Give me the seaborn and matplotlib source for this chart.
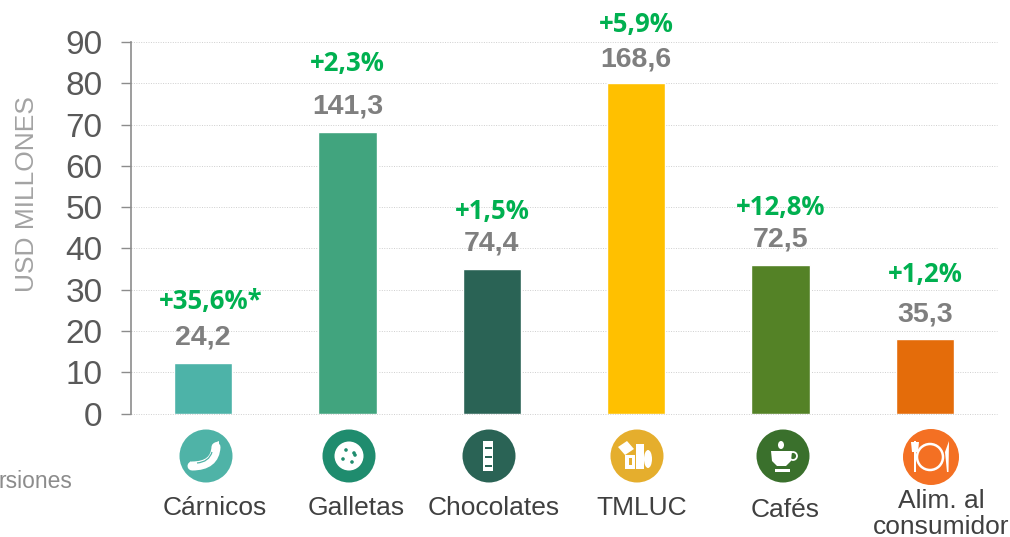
import matplotlib
matplotlib.use("Agg")
import matplotlib.pyplot as plt
import matplotlib.patheffects as pe
from matplotlib.patches import Circle, Ellipse, Rectangle, Polygon, PathPatch
from matplotlib.path import Path
import pandas as pd
import seaborn as sb

categories = ["Cárnicos", "Galletas", "Chocolates", "TMLUC", "Cafés", "Alim. al\nconsumidor"]
bar_values = [12.2, 68.2, 35, 80, 36, 18]
value_labels = ["24,2", "141,3", "74,4", "168,6", "72,5", "35,3"]
growth_labels = ["+35,6%*", "+2,3%", "+1,5%", "+5,9%", "+12,8%", "+1,2%"]
value_y = [18.4, 74.3, 41.1, 85.7, 42.1, 23.9]
growth_y = [27.1, 84.8, 48.9, 94.2, 49.9, 33.6]
bar_colors = ["#4DB3A8", "#41A47E", "#2A6355", "#FFC000", "#548226", "#E46C0A"]
icon_colors = ["#4FB3A7", "#1F8C6E", "#2A6355", "#E5AE2D", "#3A702C", "#F47023"]
yticks = [0, 10, 20, 30, 40, 50, 60, 70, 80, 90]

sb.set_style("white")
plt.rcParams["font.family"] = ["Liberation Sans", "DejaVu Sans"]

W, H = 1010, 537
fig = plt.figure(figsize=(W / 100, H / 100), dpi=100)
ax = fig.add_axes([131 / W, 1 - 413.5 / H, (997 - 131) / W, (413.5 - 42) / H])

df = pd.DataFrame({"cat": categories, "val": bar_values})
sb.barplot(data=df, x="cat", y="val", hue="cat", palette=bar_colors, legend=False,
           width=0.405, saturation=1, ax=ax, zorder=3)
shadow = [pe.SimplePatchShadow(offset=(0.6, -1), alpha=0.3, shadow_rgbFace="#555555"), pe.Normal()]
for p in ax.patches:
    p.set_path_effects(shadow)

ax.set_xlim(-0.5, 5.5)
ax.set_ylim(0, 90)
ax.set_yticks(yticks)
ax.set_xticks([])
ax.set_xlabel("")
ax.set_ylabel("USD MILLONES", fontsize=19, color="#a3a3a3", va="center")
ax.yaxis.set_label_coords(-0.12, 0.59)
ax.grid(axis="y", color="#cfcfcf", linestyle=(0, (1, 1.5)), linewidth=0.7, zorder=0, clip_on=False)
ax.set_axisbelow(True)
ax.tick_params(axis="y", labelsize=24, labelcolor="#595959", color="#8c8c8c",
               length=7.5, width=1, pad=13, left=True)
sb.despine(ax=ax, top=True, right=True, bottom=True)
ax.spines["left"].set_color("#8c8c8c")
ax.spines["left"].set_linewidth(1.2)

for i in range(len(categories)):
    ax.text(i, value_y[i], value_labels[i], ha="center", va="center", fontsize=20.5,
            fontweight="bold", color="#7f7f7f")
    ax.text(i + (0.05 if i == 0 else 0), growth_y[i], growth_labels[i], ha="center", va="center",
            fontsize=18.5, fontweight="bold", color="#00B050", family="Open Sans", clip_on=False)

# overlay in pixels for the icons and the labels under the axis
ov = fig.add_axes([0, 0, 1, 1], zorder=5)
ov.set_xlim(0, W)
ov.set_ylim(H, 0)
ov.axis("off")

icon_x = [206, 349, 489, 637, 783, 931]
icon_y = [456, 456, 456, 456, 456, 457]
icon_r = [26.5, 26.5, 26.5, 26.5, 26.5, 28]
for x, y, r, c in zip(icon_x, icon_y, icon_r, icon_colors):
    ov.add_patch(Circle((x, y), r, color=c, lw=0))

# sausage
sausage = Path([(192, 466), (215, 466), (216, 447)], [Path.MOVETO, Path.CURVE3, Path.CURVE3])
ov.add_patch(PathPatch(sausage, fill=False, ec="white", lw=6.5, capstyle="round"))
ov.add_patch(PathPatch(Path([(197, 463), (209, 462), (212, 452)], [Path.MOVETO, Path.CURVE3, Path.CURVE3]),
                       fill=False, ec=icon_colors[0], lw=0.9))
ov.add_patch(Polygon([[214, 443], [219, 441], [219, 448]], color="white", lw=0))
ov.add_patch(Polygon([[188, 465], [191, 461], [192, 469]], color="white", lw=0))
# cookie
ov.add_patch(Circle((349, 456), 14.5, color="white", lw=0))
for dx, dy in [(-3, -6), (5, -3), (-6, 3), (3, 6), (6, -1)]:
    ov.add_patch(Circle((349 + dx, 456 + dy), 1.8, color=icon_colors[1], lw=0))
# chocolate bar
ov.add_patch(Rectangle((483, 441), 10, 30, color="white", lw=0))
for dy in [447, 456, 465]:
    ov.add_patch(Rectangle((484.5, dy), 7, 2, color=icon_colors[2], lw=0))
# boxes
ov.add_patch(Polygon([[618, 447], [627, 441], [634, 449], [625, 455]], color="white", lw=0))
ov.add_patch(Rectangle((625, 455), 10, 14, color="white", lw=0))
ov.add_patch(Rectangle((636, 444), 8, 25, color="white", lw=0))
ov.add_patch(Rectangle((629, 458), 3, 7, color=icon_colors[3], lw=0))
ov.add_patch(Ellipse((648, 459), 8, 18, color="white", lw=0))
# cup
ov.add_patch(Polygon([[771, 451], [792, 451], [791, 461], [786, 466], [777, 466], [772, 461]], color="white", lw=0))
ov.add_patch(Circle((793, 456), 4, fill=False, ec="white", lw=1.3))
ov.add_patch(Rectangle((775, 469), 15, 2.5, color="white", lw=0))
ov.add_patch(Ellipse((781, 445), 6, 8, color="white", lw=0))
# plate and cutlery
ov.add_patch(Circle((930, 457), 13, fill=False, ec="white", lw=1.8))
ov.add_patch(Rectangle((914, 441), 2, 31, color="white", lw=0))
ov.add_patch(Polygon([[911, 442], [919, 442], [918, 452], [912, 452]], color="white", lw=0))
ov.add_patch(Polygon([[947, 472], [948.5, 472], [949, 441], [945, 452]], color="white", lw=0))

label_x = [215, 356, 494, 642, 785, 941]
label_y = [508, 508, 508, 508, 510, 514]
for x, y, t in zip(label_x, label_y, categories):
    ov.text(x, y, t, ha="center", va="center", fontsize=19,
            color="#404040", linespacing=1.08, clip_on=True)

ov.text(-1, 481, "rsiones", ha="left", va="center", fontsize=16.5, color="#8c8c8c")

fig.savefig("out.png", dpi=100)
